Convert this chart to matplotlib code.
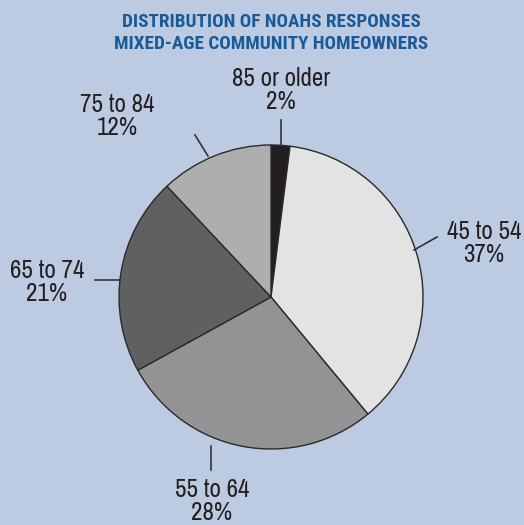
import matplotlib.pyplot as plt
import numpy as np

labels = ['85 or older', '45 to 54', '55 to 64', '65 to 74', '75 to 84']
shares = [2, 37, 28, 21, 12]
colors = ['#231f20', '#e3e3e3', '#939393', '#5f6062', '#aeaeae']

# label text position and leader line (start, end) in pixel coords (y from top)
label_pos = [(281, 90), (484, 243), (212, 501), (47, 282), (117, 116)]
leaders = [((281, 145), (281, 120)), ((414, 250), (437, 237)), ((211, 446), (211, 470)),
           ((119, 280), (95, 280)), ((208, 156), (195, 135))]

H = 525
bg = '#bccbe2'
fam = ['Archivo Narrow', 'DejaVu Sans']
title_fam = ['Roboto Condensed', 'DejaVu Sans']

fig = plt.figure(figsize=(5.24, 5.25), dpi=100, facecolor=bg)
ax = fig.add_axes([0, 0, 1, 1])
ax.set_facecolor(bg)

ax.pie(shares, colors=colors, startangle=90, counterclock=False,
       center=(271, H - 297), radius=152, frame=True,
       wedgeprops=dict(edgecolor='#2a2a2a', linewidth=1.0))
ax.set_xlim(0, 524)
ax.set_ylim(0, H)
ax.set_aspect('equal')
ax.axis('off')

for lab, s, (x, y), (p0, p1) in zip(labels, shares, label_pos, leaders):
    ax.plot([p0[0], p1[0]], [H - p0[1], H - p1[1]], color='#333333', lw=1.2)
    ax.text(x, H - y, f'{lab}\n{s}%', ha='center', va='center', fontsize=18,
            color='#231f20', family=fam, linespacing=1.05)

ax.text(271, H - 33, 'DISTRIBUTION OF NOAHS RESPONSES\nMIXED-AGE COMMUNITY HOMEOWNERS',
        ha='center', va='center', fontsize=13.8, fontweight='bold', color='#1a5a96',
        family=title_fam, linespacing=1.25)

fig.savefig('out.png', dpi=100, facecolor=bg)
